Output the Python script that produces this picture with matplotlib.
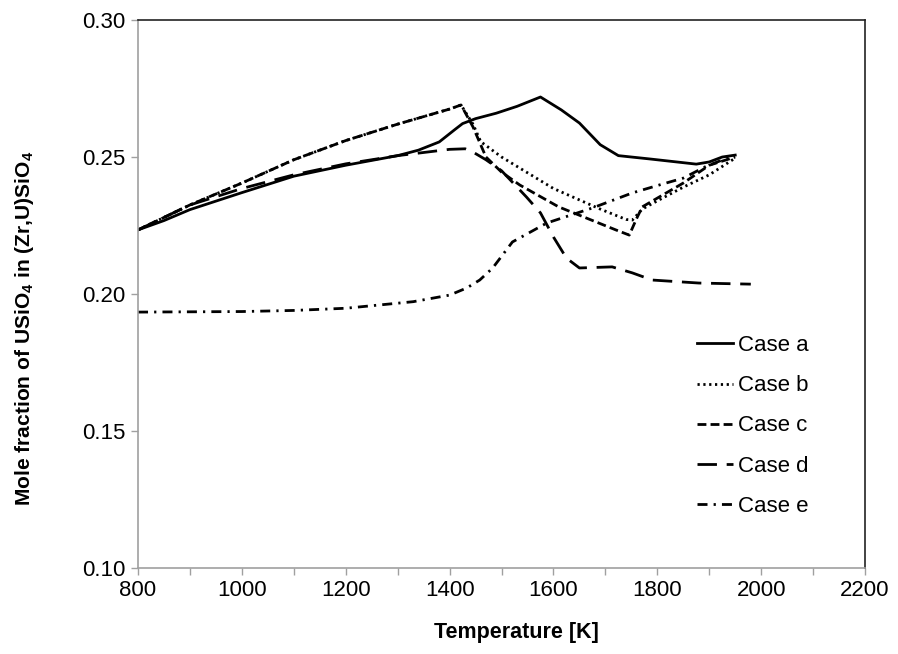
import matplotlib
matplotlib.use('Agg')
import matplotlib.pyplot as plt
from matplotlib.ticker import MultipleLocator

plt.rcParams['font.family'] = ['Liberation Sans', 'DejaVu Sans']
plt.rcParams['mathtext.fontset'] = 'custom'
plt.rcParams['mathtext.rm'] = 'Liberation Sans'
plt.rcParams['mathtext.bf'] = 'Liberation Sans:bold'

# Case a
t_a = [800, 850, 900, 1000, 1100, 1200, 1300, 1340, 1380, 1410, 1425, 1450, 1490, 1530, 1575,
       1615, 1650, 1690, 1725, 1785, 1875, 1900, 1925, 1950]
x_a = [0.2234, 0.2268, 0.2308, 0.2370, 0.2430, 0.2470, 0.2505, 0.2525, 0.2555, 0.2600, 0.2622,
       0.2640, 0.2660, 0.2685, 0.2719, 0.2672, 0.2624, 0.2545, 0.2505, 0.2493, 0.2474, 0.2482,
       0.2500, 0.2507]
# Case b
t_b = [800, 900, 1000, 1100, 1200, 1300, 1400, 1422, 1445, 1460, 1500, 1600, 1690, 1740, 1752,
       1771, 1800, 1850, 1900, 1950]
x_b = [0.2234, 0.2325, 0.2405, 0.2490, 0.2560, 0.2620, 0.2675, 0.2690, 0.2620, 0.2556, 0.2500,
       0.2385, 0.2310, 0.2272, 0.2270, 0.2310, 0.2340, 0.2390, 0.2435, 0.2496]
# Case c
t_c = [800, 900, 1000, 1100, 1200, 1300, 1400, 1422, 1445, 1470, 1500, 1535, 1610, 1720, 1746,
       1760, 1771, 1800, 1850, 1900, 1950]
x_c = [0.2234, 0.2325, 0.2405, 0.2490, 0.2560, 0.2620, 0.2675, 0.2690, 0.2610, 0.2500, 0.2445,
       0.2398, 0.2318, 0.2234, 0.2215, 0.2275, 0.2318, 0.2350, 0.2405, 0.2470, 0.2500]
# Case d
t_d = [800, 900, 1000, 1100, 1200, 1300, 1400, 1430, 1445, 1470, 1500, 1548, 1575, 1600, 1625,
       1650, 1713, 1752, 1790, 1880, 1980]
x_d = [0.2234, 0.2325, 0.2385, 0.2435, 0.2475, 0.2505, 0.2528, 0.2530, 0.2518, 0.2490, 0.2450,
       0.2354, 0.2296, 0.2208, 0.2131, 0.2095, 0.2099, 0.2077, 0.2051, 0.2040, 0.2036]
# Case e
t_e = [800, 1000, 1100, 1200, 1265, 1330, 1400, 1433, 1458, 1483, 1521, 1587, 1675, 1752, 1804,
       1850, 1894, 1940]
x_e = [0.1934, 0.1936, 0.1940, 0.1948, 0.1960, 0.1972, 0.1996, 0.2022, 0.2051, 0.2095, 0.2190,
       0.2259, 0.2314, 0.2369, 0.2398, 0.2423, 0.2466, 0.2500]

fig = plt.figure(figsize=(8.98, 6.54), dpi=100)
ax = fig.add_axes([0.1537, 0.1315, 0.8096, 0.8379])

lw = 2.0
ax.plot(t_a, x_a, color='black', lw=lw, linestyle='-', label='Case a')
ax.plot(t_b, x_b, color='black', lw=lw, linestyle=(0, (0.8, 1.3)), label='Case b')
ax.plot(t_c, x_c, color='black', lw=lw, linestyle=(0, (3.2, 1.5)), label='Case c')
ax.plot(t_d, x_d, color='black', lw=lw, linestyle=(0, (7, 3.5)), label='Case d')
ax.plot(t_e, x_e, color='black', lw=lw, linestyle=(0, (3.6, 2.2, 0.8, 2.2)), label='Case e')

ax.set_xlim(800, 2200)
ax.set_ylim(0.10, 0.30)
ax.xaxis.set_major_locator(MultipleLocator(200))
ax.xaxis.set_minor_locator(MultipleLocator(100))
ax.set_yticks([0.10, 0.15, 0.20, 0.25, 0.30])
ax.set_yticklabels(['0.10', '0.15', '0.20', '0.25', '0.30'])

ax.tick_params(axis='both', which='both', direction='out', color='#a0a0a0',
               labelsize=16, length=5, width=1, pad=4)
for s in ['left', 'bottom']:
    ax.spines[s].set_color('#a0a0a0')
    ax.spines[s].set_linewidth(1.2)
for s in ['top', 'right']:
    ax.spines[s].set_color('#222222')
    ax.spines[s].set_linewidth(1.2)

ax.set_xlabel('Temperature [K]', fontsize=15.5, fontweight='bold')
ax.set_ylabel(r'Mole fraction of USiO$\mathbf{_4}$ in (Zr,U)SiO$\mathbf{_4}$',
              fontsize=15.1, fontweight='bold')
ax.xaxis.set_label_coords(0.52, -0.098)
ax.yaxis.set_label_coords(-0.140, 0.438)

leg = ax.legend(loc='upper left', bbox_to_anchor=(0.754, 0.445), frameon=False, borderpad=0,
                fontsize=16, handlelength=1.6, handletextpad=0.25, labelspacing=0.86)

fig.savefig('out.png', dpi=100)
